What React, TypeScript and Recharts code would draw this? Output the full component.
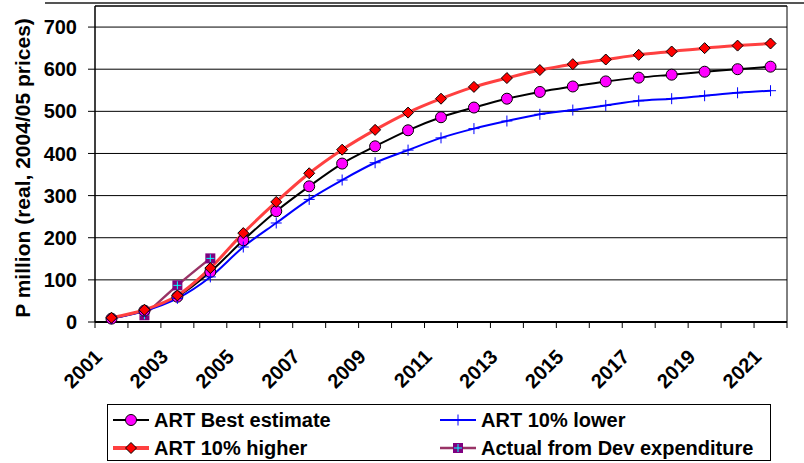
import React from 'react';
import { LineChart, Line, XAxis, YAxis, CartesianGrid, ReferenceLine, Legend } from 'recharts';

// Annual ART programme cost projections, P million (real, 2004/05 prices)
const years = [
  2001, 2002, 2003, 2004, 2005, 2006, 2007, 2008, 2009, 2010, 2011,
  2012, 2013, 2014, 2015, 2016, 2017, 2018, 2019, 2020, 2021,
];
const bestEstimate = [8, 27, 60, 119, 194, 263, 322, 376, 417, 455, 486, 509, 530, 546, 559, 571, 580, 587, 594, 600, 606];
const tenPctLower = [8, 26, 56, 107, 178, 235, 291, 337, 378, 408, 437, 459, 477, 493, 503, 514, 525, 530, 537, 544, 549];
const tenPctHigher = [10, 29, 63, 128, 211, 285, 353, 409, 456, 497, 530, 558, 579, 598, 612, 623, 634, 642, 650, 656, 661];
const actualDev: (number | null)[] = [null, 16, 87, 151, null, null, null, null, null, null, null, null, null, null, null, null, null, null, null, null, null];

const yTicks = [0, 100, 200, 300, 400, 500, 600, 700];
const yearLabels = [2001, 2003, 2005, 2007, 2009, 2011, 2013, 2015, 2017, 2019, 2021];

const seriesNames = {
  best: 'ART Best estimate',
  lower: 'ART 10% lower',
  higher: 'ART 10% higher',
  actual: 'Actual from Dev expenditure',
};

const rows = years.map((year, i) => ({
  year,
  best: bestEstimate[i],
  lower: tenPctLower[i],
  higher: tenPctHigher[i],
  actual: actualDev[i],
}));

// tick marks sit between the years, labels sit under every other year
const boundaryTicks = [...years.map((y) => y - 0.5), years[years.length - 1] + 0.5];
const xTicks = [...boundaryTicks, ...yearLabels].sort((a, b) => a - b);

const FONT = '"Liberation Sans", Arial, Helvetica, sans-serif';

const COLORS = {
  best: '#000000',
  bestFill: '#FF00FF',
  lower: '#0000FF',
  higher: '#FF4040',
  higherFill: '#FF0000',
  actual: '#993366',
  actualFill: '#800080',
  actualCross: '#00FFFF',
};

const circleMark = (cx: number, cy: number, key?: string) => (
  <circle key={key} cx={cx} cy={cy} r={5.5} fill={COLORS.bestFill} stroke="#000" strokeWidth={1} />
);
const diamondMark = (cx: number, cy: number, key?: string) => (
  <polygon
    key={key}
    points={`${cx},${cy - 5.5} ${cx + 5.5},${cy} ${cx},${cy + 5.5} ${cx - 5.5},${cy}`}
    fill={COLORS.higherFill}
    stroke="#000"
    strokeWidth={1}
  />
);
const plusMark = (cx: number, cy: number, key?: string) => (
  <g key={key}>
    <line x1={cx - 5.5} y1={cy} x2={cx + 5.5} y2={cy} stroke={COLORS.lower} strokeWidth={1} />
    <line x1={cx} y1={cy - 5.5} x2={cx} y2={cy + 5.5} stroke={COLORS.lower} strokeWidth={1} />
  </g>
);
const squareMark = (cx: number, cy: number, key?: string) => (
  <g key={key}>
    <rect x={cx - 5} y={cy - 5} width={10} height={10} fill={COLORS.actualFill} />
    <line x1={cx - 4} y1={cy} x2={cx + 4} y2={cy} stroke={COLORS.actualCross} strokeWidth={1} />
    <line x1={cx} y1={cy - 4} x2={cx} y2={cy + 4} stroke={COLORS.actualCross} strokeWidth={1} />
  </g>
);

const makeDot = (mark: (cx: number, cy: number, key?: string) => React.ReactElement, prefix: string) =>
  (props: any) => {
    const { cx, cy, index, value } = props;
    const k = `${prefix}-${index}`;
    if (cx == null || cy == null || value == null) return <g key={k} />;
    return mark(cx, cy, k);
  };

const XTick = (props: any) => {
  const { x, y, payload } = props;
  const v = payload.value as number;
  if (!Number.isInteger(v)) {
    return <line x1={x} y1={y} x2={x} y2={y + 6} stroke="#000" strokeWidth={1} />;
  }
  const ax = x - 8;
  const ay = y + 36;
  return (
    <text
      x={ax}
      y={ay}
      transform={`rotate(-45, ${ax}, ${ay})`}
      textAnchor="end"
      fontFamily={FONT}
      fontWeight="bold"
      fontSize={20}
      fill="#000"
    >
      {v}
    </text>
  );
};

const YTitle = (props: any) => {
  const vb = props.viewBox || { x: 0, y: 0, height: 0 };
  const cx = 22;
  const cy = vb.y + vb.height / 2 + 4;
  return (
    <text
      x={cx}
      y={cy}
      transform={`rotate(-90, ${cx}, ${cy})`}
      textAnchor="middle"
      dominantBaseline="central"
      fontFamily={FONT}
      fontWeight="bold"
      fontSize={21}
      fill="#000"
    >
      P million (real, 2004/05 prices)
    </text>
  );
};

const Swatch = ({ color, width, mark }: { color: string; width: number; mark: (cx: number, cy: number) => React.ReactElement }) => (
  <svg width={36} height={16} style={{ display: 'block', flex: 'none' }}>
    <line x1={0} y1={8} x2={36} y2={8} stroke={color} strokeWidth={width} />
    {mark(18, 8)}
  </svg>
);

const legendItems = [
  { name: seriesNames.best, color: COLORS.best, width: 2, mark: circleMark },
  { name: seriesNames.lower, color: COLORS.lower, width: 2, mark: plusMark },
  { name: seriesNames.higher, color: COLORS.higher, width: 4, mark: diamondMark },
  { name: seriesNames.actual, color: COLORS.actual, width: 2.5, mark: squareMark },
];

const LegendBox = () => (
  <div
    style={{
      boxSizing: 'border-box',
      width: 664,
      height: 57,
      border: '1px solid #000',
      background: '#fff',
      display: 'grid',
      gridTemplateColumns: '332px 332px',
      gridTemplateRows: '28px 28px',
      paddingTop: 1,
      fontFamily: FONT,
      fontWeight: 'bold',
      fontSize: 20,
      color: '#000',
    }}
  >
    {legendItems.map((it, i) => (
      <div
        key={it.name}
        style={{
          display: 'flex',
          alignItems: 'center',
          paddingLeft: i % 2 === 0 ? 5 : 0,
          whiteSpace: 'nowrap',
        }}
      >
        <Swatch color={it.color} width={it.width} mark={it.mark} />
        <span style={{ marginLeft: 5 }}>{it.name}</span>
      </div>
    ))}
  </div>
);

export default function App() {
  return (
    <div style={{ position: 'absolute', left: 0, top: 0, width: 804, height: 463, background: '#fff' }}>
      <div style={{ position: 'absolute', left: 45, top: 2, width: 759, height: 2, background: '#555' }} />
      <LineChart
        width={804}
        height={463}
        data={rows}
        margin={{ top: 6, right: 17, bottom: 81, left: 0 }}
      >
        <CartesianGrid horizontal vertical={false} stroke="#000" strokeWidth={1} />
        <XAxis
          dataKey="year"
          type="number"
          domain={[2000.5, 2021.5]}
          ticks={xTicks}
          interval={0}
          tick={<XTick />}
          tickLine={false}
          tickSize={0}
          tickMargin={0}
          height={60}
          axisLine={{ stroke: '#000', strokeWidth: 2 }}
          allowDecimals
        />
        <YAxis
          type="number"
          domain={[0, 750]}
          ticks={yTicks}
          interval={0}
          width={95}
          tickSize={7}
          tickMargin={11}
          tickLine={{ stroke: '#000' }}
          axisLine={{ stroke: '#000', strokeWidth: 1.5 }}
          tick={{ fontFamily: FONT, fontWeight: 'bold', fontSize: 20, fill: '#000' }}
          label={<YTitle />}
        />
        <ReferenceLine y={750} stroke="#000" strokeWidth={1} />
        <ReferenceLine x={2021.5} stroke="#000" strokeWidth={1} />
        <Line
          type="monotone"
          dataKey="actual"
          name={seriesNames.actual}
          stroke={COLORS.actual}
          strokeWidth={2.5}
          dot={makeDot(squareMark, 'a')}
          activeDot={false}
          isAnimationActive={false}
        />
        <Line
          type="monotone"
          dataKey="best"
          name={seriesNames.best}
          stroke={COLORS.best}
          strokeWidth={2}
          dot={makeDot(circleMark, 'b')}
          activeDot={false}
          isAnimationActive={false}
        />
        <Line
          type="monotone"
          dataKey="lower"
          name={seriesNames.lower}
          stroke={COLORS.lower}
          strokeWidth={2}
          dot={makeDot(plusMark, 'l')}
          activeDot={false}
          isAnimationActive={false}
        />
        <Line
          type="monotone"
          dataKey="higher"
          name={seriesNames.higher}
          stroke={COLORS.higher}
          strokeWidth={3}
          dot={makeDot(diamondMark, 'h')}
          activeDot={false}
          isAnimationActive={false}
        />
        <Legend
          verticalAlign="middle"
          align="center"
          layout="horizontal"
          wrapperStyle={{ left: 107, top: 404, width: 664, height: 57 }}
          content={<LegendBox />}
        />
      </LineChart>
    </div>
  );
}
